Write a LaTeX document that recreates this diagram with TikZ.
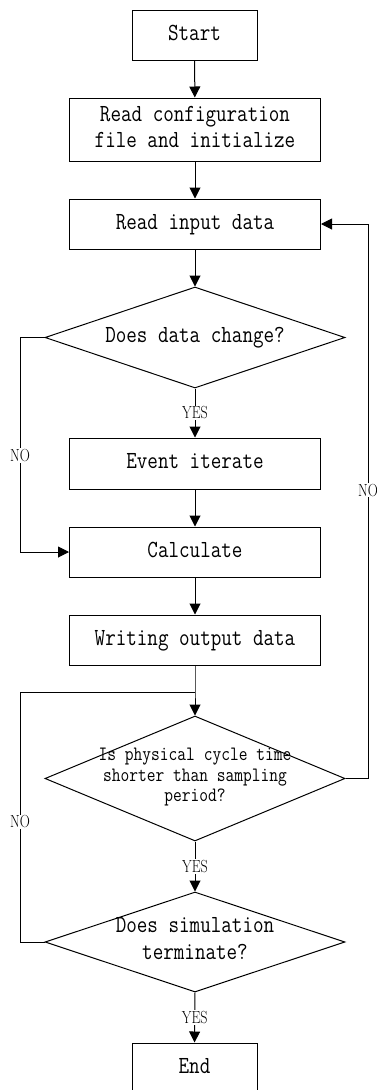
\documentclass[tikz,border=0pt]{standalone}
\usepackage{graphicx}
\usetikzlibrary{shapes.geometric,arrows.meta}
\newcommand{\vtxt}[1]{\scalebox{1}[1.2]{\begin{tabular}{@{}c@{}}#1\end{tabular}}}
\newcommand{\ltxt}[1]{\scalebox{0.8}[1]{#1}}
\begin{document}
\begin{tikzpicture}[x=1pt,y=-1pt,
  line width=1pt,
  box/.style={draw,rectangle,inner sep=0pt,minimum width=251pt,minimum height=50pt,font=\ttfamily\fontsize{20.5}{21}\selectfont,align=center},
  smallbox/.style={box,minimum width=125pt},
  dia/.style={draw,diamond,inner sep=0pt,minimum width=300pt},
  dtext/.style={font=\ttfamily\fontsize{20.5}{22.5}\selectfont,align=center,inner sep=0pt},
  lbl/.style={fill=white,inner sep=1pt,font=\fontsize{17.5}{17.5}\selectfont},
  arr/.style={-{Triangle[length=11pt,width=11pt]}}
]
\useasboundingbox (0,0) rectangle (377,1090);
\node[smallbox] (start) at (194.5,35) {\vtxt{Start}};
\node[box,minimum height=63pt] (config) at (195,129.5) {\vtxt{Read configuration\\file and initialize}};
\node[box] (input) at (195,224) {\vtxt{Read input data}};
\node[dia,minimum height=101pt] (d1) at (195,337.5) {};
\node[dtext] (t1) at (195,337.5) {\vtxt{Does data change?}};
\node[box,minimum height=51pt] (event) at (195,463.5) {\vtxt{Event iterate}};
\node[box] (calc) at (195,552) {\vtxt{Calculate}};
\node[box] (write) at (195,640) {\vtxt{Writing output data}};
\node[dia,minimum height=125pt] (d2) at (195,778.5) {};
\node[dtext,font=\ttfamily\fontsize{17}{17}\selectfont] (t2) at (195,777) {\vtxt{Is physical cycle time\\shorter than sampling\\period?}};
\node[dia,minimum height=100pt] (d3) at (195,942) {};
\node[dtext] (t3) at (195,941) {\vtxt{Does simulation\\terminate?}};
\node[smallbox] (end) at (194.5,1068) {\vtxt{End}};
\coordinate (j) at (195,692);
\coordinate (l1) at (20,337.5);
\coordinate (l2) at (20,552);
\coordinate (l3) at (20,942);
\coordinate (l4) at (20,692);
\coordinate (r1) at (368,778.5);
\coordinate (r2) at (368,224);

\draw[arr] (start) -- (config);
\draw[arr] (config) -- (input);
\draw[arr] (input) -- (d1.north);
\draw[arr] (d1.south) -- node[lbl]{\ltxt{YES}} (event.north);
\draw[arr] (d1.west) -- (l1) -- node[lbl,pos=0.55]{\ltxt{NO}} (l2) -- (calc.west);
\draw[arr] (event) -- (calc);
\draw[arr] (calc) -- (write);
\draw[arr] (write.south) -- (j) -- (d2.north);
\draw (d3.west) -- (l3) -- node[lbl,pos=0.48]{\ltxt{NO}} (l4) -- (j);
\draw[arr] (d2.east) -- (r1) -- node[lbl,pos=0.52]{\ltxt{NO}} (r2) -- (input.east);
\draw[arr] (d2.south) -- node[lbl]{\ltxt{YES}} (d3.north);
\draw[arr] (d3.south) -- node[lbl]{\ltxt{YES}} (end.north);
\end{tikzpicture}
\end{document}
